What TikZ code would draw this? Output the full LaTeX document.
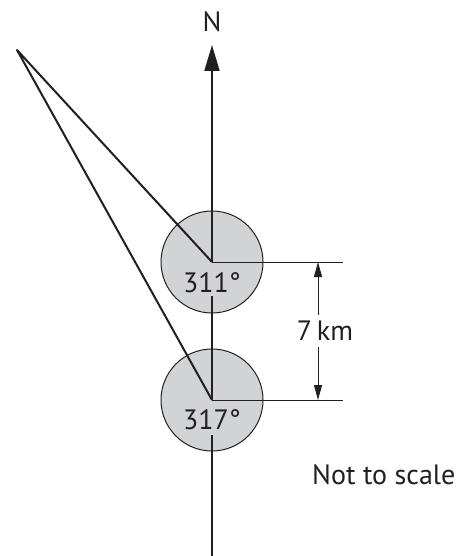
\documentclass[tikz,border=0pt]{standalone}
\usepackage{fontspec}
\setmainfont{PT Sans}
\usetikzlibrary{arrows.meta}
\definecolor{ink}{HTML}{231F20}
\definecolor{disc}{HTML}{D1D3D4}
\begin{document}
\begin{tikzpicture}[x=1pt,y=-1pt,
  thick line/.style={draw=ink,line width=2pt},
  thin line/.style={draw=ink,line width=1pt},
  lbl/.style={font=\fontsize{28}{30}\selectfont,text=ink,inner sep=0pt},
  bearing/.style={circle,minimum size=102pt,inner sep=0pt,fill=disc,draw=ink,line width=1pt}]
\useasboundingbox (0,0) rectangle (467,556);
% centres and points
\coordinate (A) at (17,50);
\coordinate (T) at (212,262);
\coordinate (B) at (212,400);
\coordinate (Ntip) at (212,45);
\coordinate (Tr) at (343,262);
\coordinate (Br) at (343,400);
\coordinate (Dt) at (318,262);
\coordinate (Db) at (318,400);
\coordinate (bot) at (212,556);
% discs
\node[bearing] (c1) at (T) {};
\node[bearing] (c2) at (B) {};
% labels
\node[lbl] (l1) at (212,283) {311°};
\node[lbl] (l2) at (212,420) {317°};
\node[lbl] (N) at (212,22) {N};
\node[lbl,fill=white,inner ysep=6pt,inner xsep=1pt] (km) at (325,331) {7\,km};
\node[lbl,anchor=west] (nts) at (312,475) {Not to scale};
% north line
\draw[thick line,-{Triangle[length=26pt,width=15pt]}] (T) -- (Ntip);
\draw[thick line] (212,296) -- (B);
\draw[thick line] (212,435) -- (bot);
% triangle
\draw[thick line,line join=round] (T) -- (A) -- (B);
% dimension
\draw[thin line] (T) -- (Tr);
\draw[thin line] (B) -- (Br);
\draw[thin line,-{Triangle[length=15pt,width=8pt]}] (km.north -| Dt) -- (Dt);
\draw[thin line,-{Triangle[length=15pt,width=8pt]}] (km.south -| Db) -- (Db);
\end{tikzpicture}
\end{document}
